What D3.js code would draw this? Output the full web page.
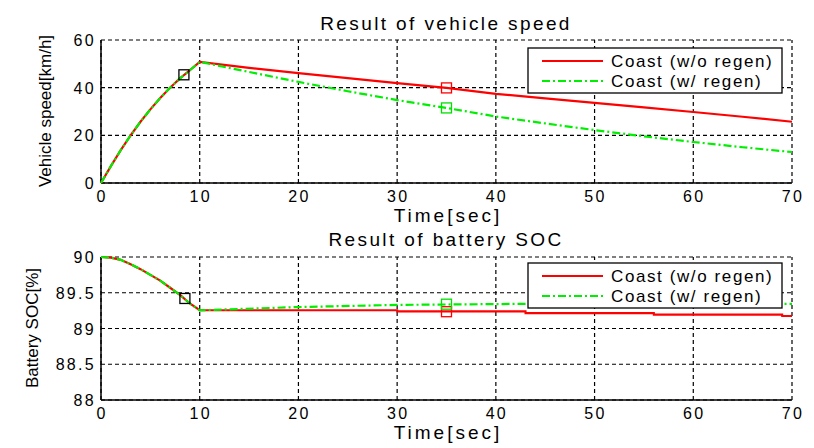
<!DOCTYPE html>
<html>
<head>
<meta charset="utf-8">
<script src="https://cdn.jsdelivr.net/npm/d3@7"></script>
<style>
  body { margin: 0; background: #fff; }
  svg text { font-family: "Liberation Sans", Arial, sans-serif; fill: #000; }
  .tick-label { font-size: 16px; letter-spacing: 2.3px; }
  .axis-label { font-size: 17px; }
  .x-label { font-size: 19px; letter-spacing: 3px; }
  .title { font-size: 19px; letter-spacing: 2.4px; }
  .legend-text { font-size: 17px; letter-spacing: 1.6px; }
</style>
</head>
<body>
<div id="chart"></div>
<script>
// ---- data ----
let speedTime = [0, 1, 2, 3, 4, 5, 6, 7, 8, 9, 10, 15, 20, 25, 30, 35, 40, 45, 50, 55, 60, 65, 70];
let speedNoRegen = [0, 7.1, 13.8, 20, 25.7, 30.9, 35.7, 40, 43.9, 47.3, 50.8, 48.3, 46.1, 44, 41.9, 39.9, 37.4, 35.5, 33.6, 31.7, 29.8, 27.8, 25.7];
let speedRegen = [0, 7.1, 13.8, 20, 25.7, 30.9, 35.7, 40, 43.9, 47.3, 50.8, 46.6, 42.4, 38.5, 34.8, 31.5, 27.9, 25, 22.2, 19.6, 17.2, 15, 13];

let socTime = [0, 1, 2, 3, 4, 5, 6, 7, 8, 9, 10, 20, 30, 30.01, 43, 43.01, 56, 56.01, 69, 69.01, 70];
let socNoRegen = [90, 89.99, 89.96, 89.9, 89.83, 89.75, 89.67, 89.57, 89.47, 89.35, 89.255, 89.255, 89.255, 89.24, 89.24, 89.215, 89.215, 89.195, 89.195, 89.175, 89.175];
let socRegen = [90, 89.99, 89.96, 89.9, 89.83, 89.75, 89.67, 89.57, 89.47, 89.35, 89.255, 89.3, 89.33, 89.33, 89.345, 89.345, 89.345, 89.345, 89.345, 89.345, 89.345];

let xTicks = [0, 10, 20, 30, 40, 50, 60, 70];
let speedTicks = [0, 20, 40, 60];
let socTicks = [88, 88.5, 89, 89.5, 90];
let seriesNames = ["Coast  (w/o regen)", "Coast  (w/ regen)"];

// marker points
let speedMarkers = [{t: 8.4, v: 45.4, c: "black"}, {t: 35, v: 39.9, c: "red"}, {t: 35, v: 31.5, c: "#00e000"}];
let socMarkers = [{t: 8.5, v: 89.42, c: "black"}, {t: 35, v: 89.235, c: "red"}, {t: 35, v: 89.34, c: "#00e000"}];

let RED = "#ff0000", GREEN = "#00ee00";

let svg = d3.select("#chart").append("svg")
    .attr("width", 814)
    .attr("height", 448);

function drawPanel(opts) {
    let x = d3.scaleLinear().domain([0, 70]).range([101, 792]);
    let y = d3.scaleLinear().domain(opts.yDomain).range([opts.bottom, opts.top]);
    let g = svg.append("g");

    // grid lines
    g.selectAll(".hgrid").data(opts.yTicks).enter().append("line")
        .attr("x1", x(0)).attr("x2", x(70))
        .attr("y1", d => y(d)).attr("y2", d => y(d))
        .attr("stroke", "#000").attr("stroke-width", 1.2)
        .attr("stroke-dasharray", "4,3");
    g.selectAll(".vgrid").data(xTicks).enter().append("line")
        .attr("x1", d => x(d)).attr("x2", d => x(d))
        .attr("y1", y.range()[0]).attr("y2", y.range()[1])
        .attr("stroke", "#000").attr("stroke-width", 1.2)
        .attr("stroke-dasharray", "4,3");

    // axes (solid left and bottom)
    g.append("line").attr("x1", x(0)).attr("x2", x(0))
        .attr("y1", opts.top).attr("y2", opts.bottom)
        .attr("stroke", "#000").attr("stroke-width", 1.5);
    g.append("line").attr("x1", x(0)).attr("x2", x(70))
        .attr("y1", opts.bottom).attr("y2", opts.bottom)
        .attr("stroke", "#000").attr("stroke-width", 1.5);

    // tick labels
    g.selectAll(".xt").data(xTicks).enter().append("text")
        .attr("class", "tick-label")
        .attr("x", d => x(d) + 1).attr("y", opts.bottom + 19)
        .attr("text-anchor", "middle")
        .text(d => d);
    g.selectAll(".yt").data(opts.yTicks).enter().append("text")
        .attr("class", "tick-label")
        .attr("x", 96).attr("y", d => y(d) + 6)
        .attr("text-anchor", "end")
        .text(d => d);

    // labels
    g.append("text").attr("class", "x-label")
        .attr("x", 448).attr("y", opts.bottom + 39)
        .attr("text-anchor", "middle")
        .text("Time[sec]");
    g.append("text").attr("class", "axis-label")
        .attr("transform", "translate(" + opts.yLabelX + "," + opts.yLabelY + ") rotate(-90)")
        .attr("text-anchor", "middle")
        .text(opts.yLabel);
    g.append("text").attr("class", "title")
        .attr("x", 446).attr("y", opts.titleY)
        .attr("text-anchor", "middle")
        .text(opts.title);

    // lines
    let line = (vals) => d3.line()
        .x((d, i) => x(opts.time[i]))
        .y(d => y(d))(vals);
    g.append("path").attr("d", line(opts.s1))
        .attr("fill", "none").attr("stroke", RED).attr("stroke-width", 2.2);
    g.append("path").attr("d", line(opts.s2))
        .attr("fill", "none").attr("stroke", GREEN).attr("stroke-width", 2.2)
        .attr("stroke-dasharray", "8,3,2,3");

    // markers
    g.selectAll(".mk").data(opts.markers).enter().append("rect")
        .attr("x", d => x(d.t) - 5).attr("y", d => y(d.v) - 5)
        .attr("width", 10).attr("height", 10)
        .attr("fill", "none").attr("stroke", d => d.c).attr("stroke-width", 1.3);

    // legend
    let lg = g.append("g").attr("transform", "translate(528," + opts.legendY + ")");
    lg.append("rect").attr("width", 254).attr("height", 45)
        .attr("fill", "#fff").attr("stroke", "#000").attr("stroke-width", 1.3);
    [RED, GREEN].forEach(function(c, i) {
        let yy = 13 + i * 20;
        lg.append("line").attr("x1", 14).attr("x2", 75)
            .attr("y1", yy).attr("y2", yy)
            .attr("stroke", c).attr("stroke-width", 2.2)
            .attr("stroke-dasharray", i === 1 ? "8,3,2,3" : null);
        lg.append("text").attr("class", "legend-text")
            .attr("x", 83).attr("y", yy + 6)
            .text(seriesNames[i]);
    });
}

drawPanel({
    top: 40, bottom: 183, yDomain: [0, 60], yTicks: speedTicks,
    time: speedTime, s1: speedNoRegen, s2: speedRegen, markers: speedMarkers,
    title: "Result of vehicle speed", titleY: 30,
    yLabel: "Vehicle speed[km/h]", yLabelX: 51, yLabelY: 111,
    legendY: 48
});
drawPanel({
    top: 257, bottom: 400, yDomain: [88, 90], yTicks: socTicks,
    time: socTime, s1: socNoRegen, s2: socRegen, markers: socMarkers,
    title: "Result of battery SOC", titleY: 246,
    yLabel: "Battery SOC[%]", yLabelX: 38, yLabelY: 328,
    legendY: 263
});
</script>
</body>
</html>
